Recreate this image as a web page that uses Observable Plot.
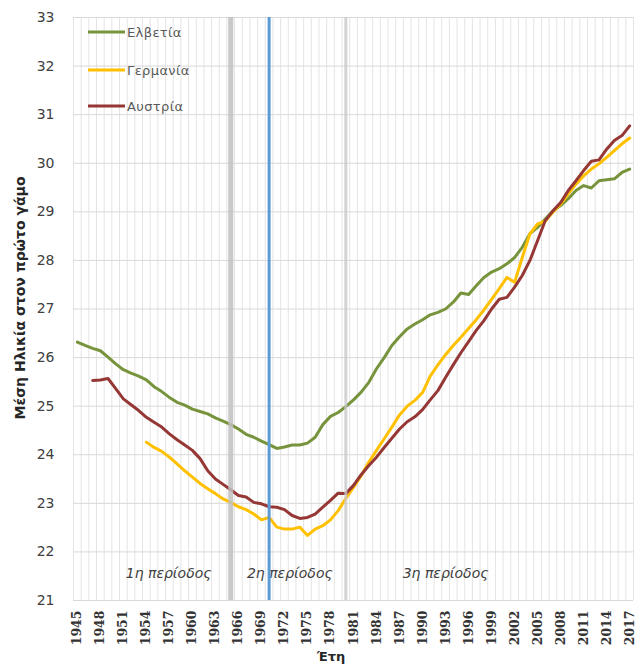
<!DOCTYPE html>
<html>
<head>
<meta charset="utf-8">
<script src="https://cdn.jsdelivr.net/npm/d3@7"></script>
<script src="https://cdn.jsdelivr.net/npm/@observablehq/plot@0.6"></script>
<style>
  html, body { margin: 0; padding: 0; background: #fff; }
  #wrap { position: relative; width: 641px; height: 666px; }
  #overlay { position: absolute; left: 0; top: 0; pointer-events: none; }
</style>
</head>
<body>
<div id="wrap"></div>
<script>
// ---- data ----
const years = d3.range(1945, 2018);
const seriesNames = ["Ελβετία", "Γερμανία", "Αυστρία"];
const seriesColors = ["#77933C", "#FFC000", "#953735"];

const switzerland = [
  26.32, 26.25, 26.19, 26.14, 26.01, 25.87, 25.75, 25.68, 25.62, 25.54,
  25.40, 25.30, 25.18, 25.08, 25.02, 24.94, 24.89, 24.84, 24.76, 24.69,
  24.62, 24.53, 24.42, 24.36, 24.28, 24.21, 24.13, 24.16, 24.20, 24.20,
  24.24, 24.36, 24.62, 24.79, 24.87, 24.99, 25.13, 25.29, 25.49, 25.77,
  26.00, 26.25, 26.43, 26.59, 26.69, 26.78, 26.88, 26.93, 27.00, 27.14,
  27.33, 27.30, 27.48, 27.65, 27.76, 27.83, 27.93, 28.06, 28.27, 28.55,
  28.68, 28.85, 29.02, 29.13, 29.27, 29.44, 29.54, 29.49, 29.64, 29.66,
  29.68, 29.81, 29.88
];
const germany = [
  null, null, null, null, null, null, null, null, null, 24.26,
  24.15, 24.07, 23.95, 23.81, 23.67, 23.54, 23.41, 23.30, 23.20, 23.09,
  23.02, 22.93, 22.87, 22.78, 22.66, 22.71, 22.51, 22.47, 22.47, 22.51,
  22.34, 22.47, 22.54, 22.66, 22.85, 23.10, 23.33, 23.57, 23.85, 24.09,
  24.33, 24.57, 24.82, 25.00, 25.12, 25.28, 25.62, 25.85, 26.06, 26.25,
  26.42, 26.60, 26.78, 26.98, 27.20, 27.42, 27.65, 27.55, 28.06, 28.55,
  28.75, 28.81, 28.99, 29.16, 29.37, 29.57, 29.74, 29.88, 29.99, 30.12,
  30.26, 30.40, 30.52
];
const austria = [
  null, null, 25.53, 25.54, 25.57, 25.36, 25.15, 25.03, 24.91, 24.77,
  24.67, 24.57, 24.43, 24.31, 24.20, 24.09, 23.92, 23.67, 23.50, 23.39,
  23.28, 23.16, 23.13, 23.02, 22.99, 22.93, 22.92, 22.87, 22.75, 22.69,
  22.71, 22.78, 22.92, 23.06, 23.21, 23.20, 23.37, 23.59, 23.78, 23.95,
  24.15, 24.34, 24.53, 24.68, 24.78, 24.93, 25.13, 25.32, 25.59, 25.85,
  26.10, 26.33, 26.56, 26.76, 27.00, 27.20, 27.24, 27.45, 27.69, 28.00,
  28.41, 28.82, 29.02, 29.19, 29.44, 29.64, 29.85, 30.04, 30.07, 30.29,
  30.47, 30.57, 30.77
];

const periodLabels = ["1η περίοδος", "2η περίοδος", "3η περίοδος"];
const periodYears = [1956.9, 1972.7, 1993];
const periodValue = 21.55;
const boundaryYears = [1965, 1980];
const splitYear = 1970;
const yTicks = d3.range(21, 34);
const xTicks = d3.range(1945, 2018, 3);
const yTitle = "Μέση Ηλικία στον πρώτο γάμο";
const xTitle = "Έτη";

// ---- build tables ----
const seriesValues = [switzerland, germany, austria];
const rows = [];
seriesNames.forEach((name, s) => {
  years.forEach((yr, i) => rows.push({ year: yr, value: seriesValues[s][i], series: name }));
});
const periods = periodLabels.map((t, i) => ({ text: t, year: periodYears[i], value: periodValue }));
const gridYears = years.map(y => y - 0.5).concat([years[years.length - 1] + 0.5]);

const W = 641, H = 666;
const chart = Plot.plot({
  width: W,
  height: H,
  marginLeft: 73,
  marginRight: 8,
  marginTop: 17,
  marginBottom: 66,
  style: { fontFamily: "DejaVu Sans", fontSize: "13px", color: "#404040", background: "#fff" },
  x: { domain: [years[0] - 0.5, years[years.length - 1] + 0.5] },
  y: { domain: [yTicks[0], yTicks[yTicks.length - 1]] },
  color: { domain: seriesNames, range: seriesColors },
  marks: [
    Plot.ruleX(gridYears, { stroke: "#E4E4E4", strokeWidth: 1 }),
    Plot.ruleY(yTicks, { stroke: "#D9D9D9", strokeWidth: 1 }),
    Plot.text(periods, { x: "year", y: "value", text: "text", fontStyle: "italic", fontSize: 14, fill: "#404040" }),
    Plot.line(rows, { x: "year", y: "value", z: "series", stroke: "series", strokeWidth: 3, strokeLinejoin: "round", strokeLinecap: "round" }),
    Plot.ruleX([boundaryYears[0]], { stroke: "#BFBFBF", strokeWidth: 5, strokeOpacity: 0.85 }),
    Plot.ruleX([boundaryYears[1]], { stroke: "#C8C8C8", strokeWidth: 3, strokeOpacity: 0.8 }),
    Plot.ruleX([splitYear], { stroke: "#5B9BD5", strokeWidth: 3 }),
    Plot.axisY({ ticks: yTicks, tickSize: 0, tickPadding: 19, label: null, fontSize: 14, fill: "#404040" }),
    Plot.axisX({ ticks: xTicks, tickFormat: d => String(d), tickRotate: -90, tickSize: 0, tickPadding: 10, label: null, fontFamily: "DejaVu Serif", fontWeight: "bold", fontSize: 12.5, fill: "#333" })
  ]
});

const wrap = document.getElementById("wrap");
wrap.appendChild(chart);

// ---- overlay: legend and axis titles ----
const ov = d3.select(wrap).append("svg")
  .attr("id", "overlay").attr("width", W).attr("height", H)
  .style("font-family", "DejaVu Sans");

const legendY = [32, 70, 106];
seriesNames.forEach((name, i) => {
  ov.append("line").attr("x1", 88).attr("x2", 125).attr("y1", legendY[i]).attr("y2", legendY[i])
    .attr("stroke", seriesColors[i]).attr("stroke-width", 3);
  ov.append("text").attr("x", 127).attr("y", legendY[i]).attr("dy", "0.35em")
    .attr("font-size", 13).attr("fill", "#595959").attr("letter-spacing", 0.4).text(name);
});

ov.append("text")
  .attr("transform", "translate(25,298) rotate(-90)")
  .attr("text-anchor", "middle").attr("font-size", 14).attr("font-weight", "bold")
  .attr("fill", "#262626").text(yTitle);

ov.append("text")
  .attr("x", 331).attr("y", 661).attr("text-anchor", "middle")
  .attr("font-size", 13).attr("font-weight", "bold").attr("fill", "#262626").text(xTitle);
</script>
</body>
</html>
